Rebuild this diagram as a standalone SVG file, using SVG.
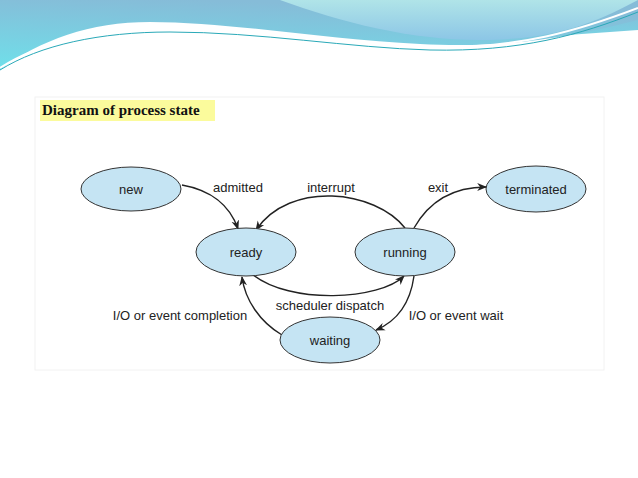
<svg xmlns="http://www.w3.org/2000/svg" width="638" height="478" viewBox="0 0 638 478">
<defs>
<linearGradient id="g1" x1="0" y1="1" x2="0.3" y2="0"><stop offset="0" stop-color="#6fe0ea"/><stop offset="1" stop-color="#86bcd8"/></linearGradient>
<linearGradient id="g2" x1="0" y1="0" x2="0" y2="1"><stop offset="0" stop-color="#b0e4e8"/><stop offset="1" stop-color="#8cc6e6"/></linearGradient>
<marker id="ah" viewBox="0 0 10 10" refX="9" refY="5" markerWidth="7" markerHeight="7" orient="auto-start-reverse"><path d="M0,1 L10,5 L0,9 L3,5 z" fill="#222"/></marker>
</defs>
<style>
.n{fill:#c5e4f3;stroke:#333;stroke-width:1}
.t{font-family:"Liberation Sans",Arial,sans-serif;font-size:13px;fill:#222;text-anchor:middle}
.c{fill:none;stroke:#222;stroke-width:1.4;marker-end:url(#ah)}
</style>
<rect width="638" height="478" fill="#fff"/>
<path d="M0,0 H290 C330,20 400,38 470,42 L638,30 V0 Z M0,0" fill="url(#g1)"/>
<path d="M0,70 C40,40 90,22 150,22 C230,22 330,40 420,44 C500,48 560,40 638,20 V0 H0 Z" fill="url(#g1)"/>
<path d="M280,0 C340,22 410,40 480,40 C560,40 600,20 638,0 Z" fill="url(#g2)"/>
<path d="M0,70 C40,45 100,32 170,32 C260,32 350,48 430,50 C520,52 580,35 638,12" fill="none" stroke="#2aa9b8" stroke-width="1"/>
<path d="M0,68 C40,42 100,28 170,28 C260,28 350,44 430,47 C520,49 580,30 638,8" fill="none" stroke="#ffffff" stroke-width="2"/>
<rect x="35" y="97" width="569" height="273" fill="#fff" stroke="#f2f2f2"/>
<rect x="40" y="100" width="175" height="21" fill="#fbfb9c"/>
<text x="42" y="115" font-family="Liberation Serif,serif" font-weight="bold" font-size="15" fill="#111">Diagram of process state</text>
<g id="connectors">
<path class="c" d="M182,185 C210,190 230,205 238,229"/>
<path class="c" d="M405,228 C375,190 290,180 256,230"/>
<path class="c" d="M414,228 C430,200 455,187 486,187"/>
<path class="c" d="M252,274 C290,305 380,300 404,276"/>
<path class="c" d="M414,276 C410,305 395,322 376,330"/>
<path class="c" d="M282,335 C260,322 245,300 242,277"/>
</g>
<g class="t">
<text x="238" y="192">admitted</text>
<text x="331" y="192">interrupt</text>
<text x="438" y="192">exit</text>
<text x="180" y="320">I/O or event completion</text>
<text x="330" y="310">scheduler dispatch</text>
<text x="456" y="320">I/O or event wait</text>
</g>
<g id="new"><ellipse class="n" cx="131" cy="189" rx="50" ry="22"/><text class="t" x="131" y="194">new</text></g>
<g id="terminated"><ellipse class="n" cx="536" cy="189" rx="50" ry="23"/><text class="t" x="536" y="194">terminated</text></g>
<g id="ready"><ellipse class="n" cx="246" cy="252" rx="50" ry="24"/><text class="t" x="246" y="257">ready</text></g>
<g id="running"><ellipse class="n" cx="405" cy="252" rx="50" ry="24"/><text class="t" x="405" y="257">running</text></g>
<g id="waiting"><ellipse class="n" cx="330" cy="340" rx="50" ry="23"/><text class="t" x="330" y="345">waiting</text></g>
</svg>
